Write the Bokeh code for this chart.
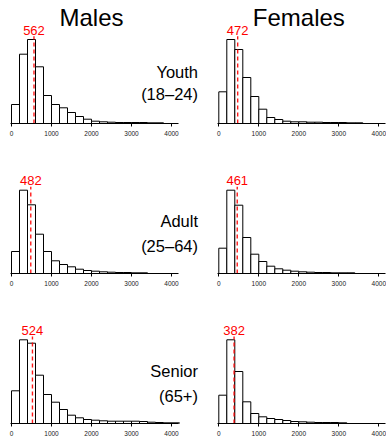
import numpy as np
from bokeh.plotting import figure
from bokeh.layouts import gridplot
from bokeh.models import Range1d, FixedTicker, Label
from bokeh.embed import file_html
from bokeh.resources import INLINE

# ---------------- data ----------------
BIN_WIDTH = 200
x_ticks = [0, 1000, 2000, 3000, 4000]
sex_titles = ["Males", "Females"]
age_groups = ["Youth", "Adult", "Senior"]
age_ranges = ["(18–24)", "(25–64)", "(65+)"]

# relative frequencies per 200-wide bin (starting at 0)
male_youth = [19, 69.3, 84, 56.7, 28, 19, 15.7, 11, 7, 4.3, 2.3, 1.7, 1.3, 1, 1, 1, 1, 0.7, 0.7]
female_youth = [31.7, 84, 74, 46, 27, 14.3, 6, 4, 2.3, 1.7, 1.7, 1.3, 1.3, 1, 1, 1, 0.7, 0.7]
male_adult = [22, 83.3, 68.7, 39.3, 22, 12.7, 9, 6.7, 4.3, 3, 2.3, 1.7, 1.3, 1, 1, 0.7, 0.7]
female_adult = [25.3, 83.3, 68.3, 36, 19.3, 12, 7.3, 4.7, 3.3, 2.3, 1.7, 1.3, 1, 1, 0.7, 0.7, 0.7]
male_senior = [32.7, 83.7, 80.3, 48.3, 29, 21.3, 14, 8.3, 5.7, 4, 3.3, 2.7, 2.3, 2.3, 2.3, 2.3, 2, 1.3, 1, 0.7, 0.7]
female_senior = [28.3, 83.7, 52, 21.7, 10, 6.7, 5, 4, 3, 2, 1.7, 1.3, 1, 1, 1, 0.7]

male_medians = [562, 482, 524]
female_medians = [472, 461, 382]

hists = [[male_youth, female_youth], [male_adult, female_adult], [male_senior, female_senior]]
medians = [[male_medians[i], female_medians[i]] for i in range(3)]

# ---------------- layout ----------------
FONT = "Liberation Sans"
COL_W = [200, 186]
ZERO_PX = [11, 18.3]          # pixel offset of x=0 inside each column
PX_PER_UNIT = 40 / 1000.0      # 40 px per 1000
ROW_H = [140, 150, 150]
BOTTOM = 17
label_y = [(52, 29.5), (53, 28), (53, 28)]
ROW_LABEL_X = (197.5 - ZERO_PX[0]) / PX_PER_UNIT

plots = []
for r in range(3):
    row = []
    for c in range(2):
        frame_h = ROW_H[r] - BOTTOM
        xs = -ZERO_PX[c] / PX_PER_UNIT
        xe = xs + COL_W[c] / PX_PER_UNIT
        p = figure(width=COL_W[c], height=ROW_H[r], output_backend="svg",
                   toolbar_location=None, x_range=Range1d(xs, xe),
                   y_range=Range1d(0, frame_h), y_axis_location=None,
                   min_border_left=0, min_border_right=0, min_border_top=0,
                   min_border_bottom=BOTTOM, outline_line_color=None,
                   background_fill_color="white", border_fill_color="white")
        p.grid.visible = False
        vals = np.array(hists[r][c], dtype=float)
        left = np.arange(len(vals)) * BIN_WIDTH
        p.quad(left=left, right=left + BIN_WIDTH, bottom=0, top=vals,
               fill_color="white", line_color="black", line_width=1)
        m = medians[r][c]
        top = vals.max() * 1.04
        p.segment(x0=[m], y0=[0], x1=[m], y1=[top], line_color="#ff0000",
                  line_width=1.4, line_alpha=0.9, line_dash="4 3")
        p.add_layout(Label(x=m, y=top + 6, text=str(m), text_align="center",
                           text_baseline="middle", text_color="#ff0000",
                           text_font=FONT, text_font_size="13px"))
        if r == 0:
            p.add_layout(Label(x=2000, y=frame_h - 17, text=sex_titles[c],
                               text_align="center", text_baseline="middle",
                               text_font=FONT, text_font_size="24px", text_color="black"))
        if c == 0:
            p.add_layout(Label(x=ROW_LABEL_X, y=label_y[r][0], text=age_groups[r],
                               text_align="right", text_baseline="middle",
                               text_font=FONT, text_font_size="16.5px", text_color="black"))
            p.add_layout(Label(x=ROW_LABEL_X, y=label_y[r][1], text=age_ranges[r],
                               text_align="right", text_baseline="middle",
                               text_font=FONT, text_font_size="16.5px", text_color="black"))
        ax = p.xaxis[0]
        ax.ticker = FixedTicker(ticks=x_ticks)
        ax.bounds = (-25, 4175)
        ax.minor_tick_line_color = None
        ax.major_tick_in = 0
        ax.major_tick_out = 3
        ax.major_label_standoff = 4
        ax.axis_line_width = 1
        ax.major_label_text_font = FONT
        ax.major_label_text_font_size = "6.5px"
        ax.major_label_text_color = "#222222"
        row.append(p)
    plots.append(row)

grid = gridplot(plots, toolbar_location=None)
open("out.html", "w").write(file_html(grid, INLINE))
